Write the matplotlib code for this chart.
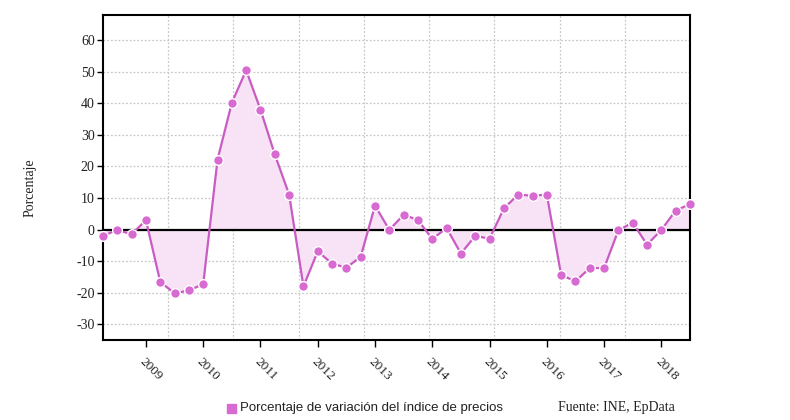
import numpy as np
import matplotlib.pyplot as plt

# quarterly values, 2008 Q2 .. 2018 Q3
start_year = 2008.25
values = [
    -2.0, -0.1, -1.5, 3.0, -16.6, -20.2, -19.3, -17.3,
    22.2, 40.2, 50.5, 38.0, 23.8, 11.1, -18.0, -6.9,
    -10.8, -12.1, -8.6, 7.6, -0.1, 4.7, 3.0, -3.0,
    0.5, -7.6, -2.0, -2.9, 6.7, 11.1, 10.7, 11.1,
    -14.4, -16.4, -12.2, -12.2, -0.2, 2.2, -4.8, -0.1,
    6.0, 8.1,
]
years = list(range(2009, 2019))
y_ticks = list(range(-30, 70, 10))

x = start_year + 0.25 * np.arange(len(values))
y = np.array(values)

line_col = "#c95cc2"
dot_col = "#d86bd1"
fill_col = "#f8e2f5"
serif = ["Liberation Serif", "DejaVu Serif"]

fig = plt.figure(figsize=(7.9, 4.2), dpi=100)
ax = fig.add_axes([103 / 790, 1 - 340 / 420, 587 / 790, 325 / 420])

x0, x1 = x[0], x[-1]
ax.set_xlim(x0, x1)
ax.set_ylim(-35, 68)

# grid: horizontal on each tick, vertical split into 9 equal parts
for v in y_ticks:
    ax.axhline(v, color="#c8c8c8", lw=0.9, ls=(0, (1.5, 1.5)), zorder=1)
for k in range(1, 9):
    ax.axvline(x0 + k * (x1 - x0) / 9, color="#c8c8c8", lw=0.9, ls=(0, (1.5, 1.5)), zorder=1)

ax.fill_between(x, y, 0, color=fill_col, lw=0, zorder=2)
ax.axhline(0, color="black", lw=1.6, zorder=3)
ax.plot(x, y, color=line_col, lw=1.6, zorder=4)
ax.plot(x, y, ls="none", marker="o", ms=7, mfc=dot_col, mec="white", mew=1.0, zorder=5, clip_on=False)

for s in ax.spines.values():
    s.set_color("black")
    s.set_linewidth(1.5)

ax.set_yticks(y_ticks)
ax.set_yticklabels([str(v) for v in y_ticks], family=serif, fontsize=10, color="#222222")
ax.set_xticks(years)
ax.set_xticklabels([str(v) for v in years], family=serif, fontsize=9.5, color="#222222",
                   rotation=-45, ha="left", va="top", rotation_mode="anchor")
ax.tick_params(axis="y", length=4, width=1, pad=2)
ax.tick_params(axis="x", length=5, width=1, pad=6)

fig.text(30 / 790, 1 - 188 / 420, "Porcentaje", rotation=90, ha="center", va="center",
         family=serif, fontsize=10, color="#222222")

# legend and source
fig.patches.append(plt.Rectangle((227 / 790, 1 - 413 / 420), 9 / 790, 9 / 420,
                                 transform=fig.transFigure, color=dot_col, figure=fig))
fig.text(240 / 790, 1 - 408 / 420, "Porcentaje de variación del índice de precios",
         ha="left", va="center", family=["Liberation Sans", "DejaVu Sans"], fontsize=9.5, color="#222222")
fig.text(558 / 790, 1 - 408 / 420, "Fuente: INE, EpData",
         ha="left", va="center", family=serif, fontsize=10, color="#222222")

fig.savefig("out.png", dpi=100)
